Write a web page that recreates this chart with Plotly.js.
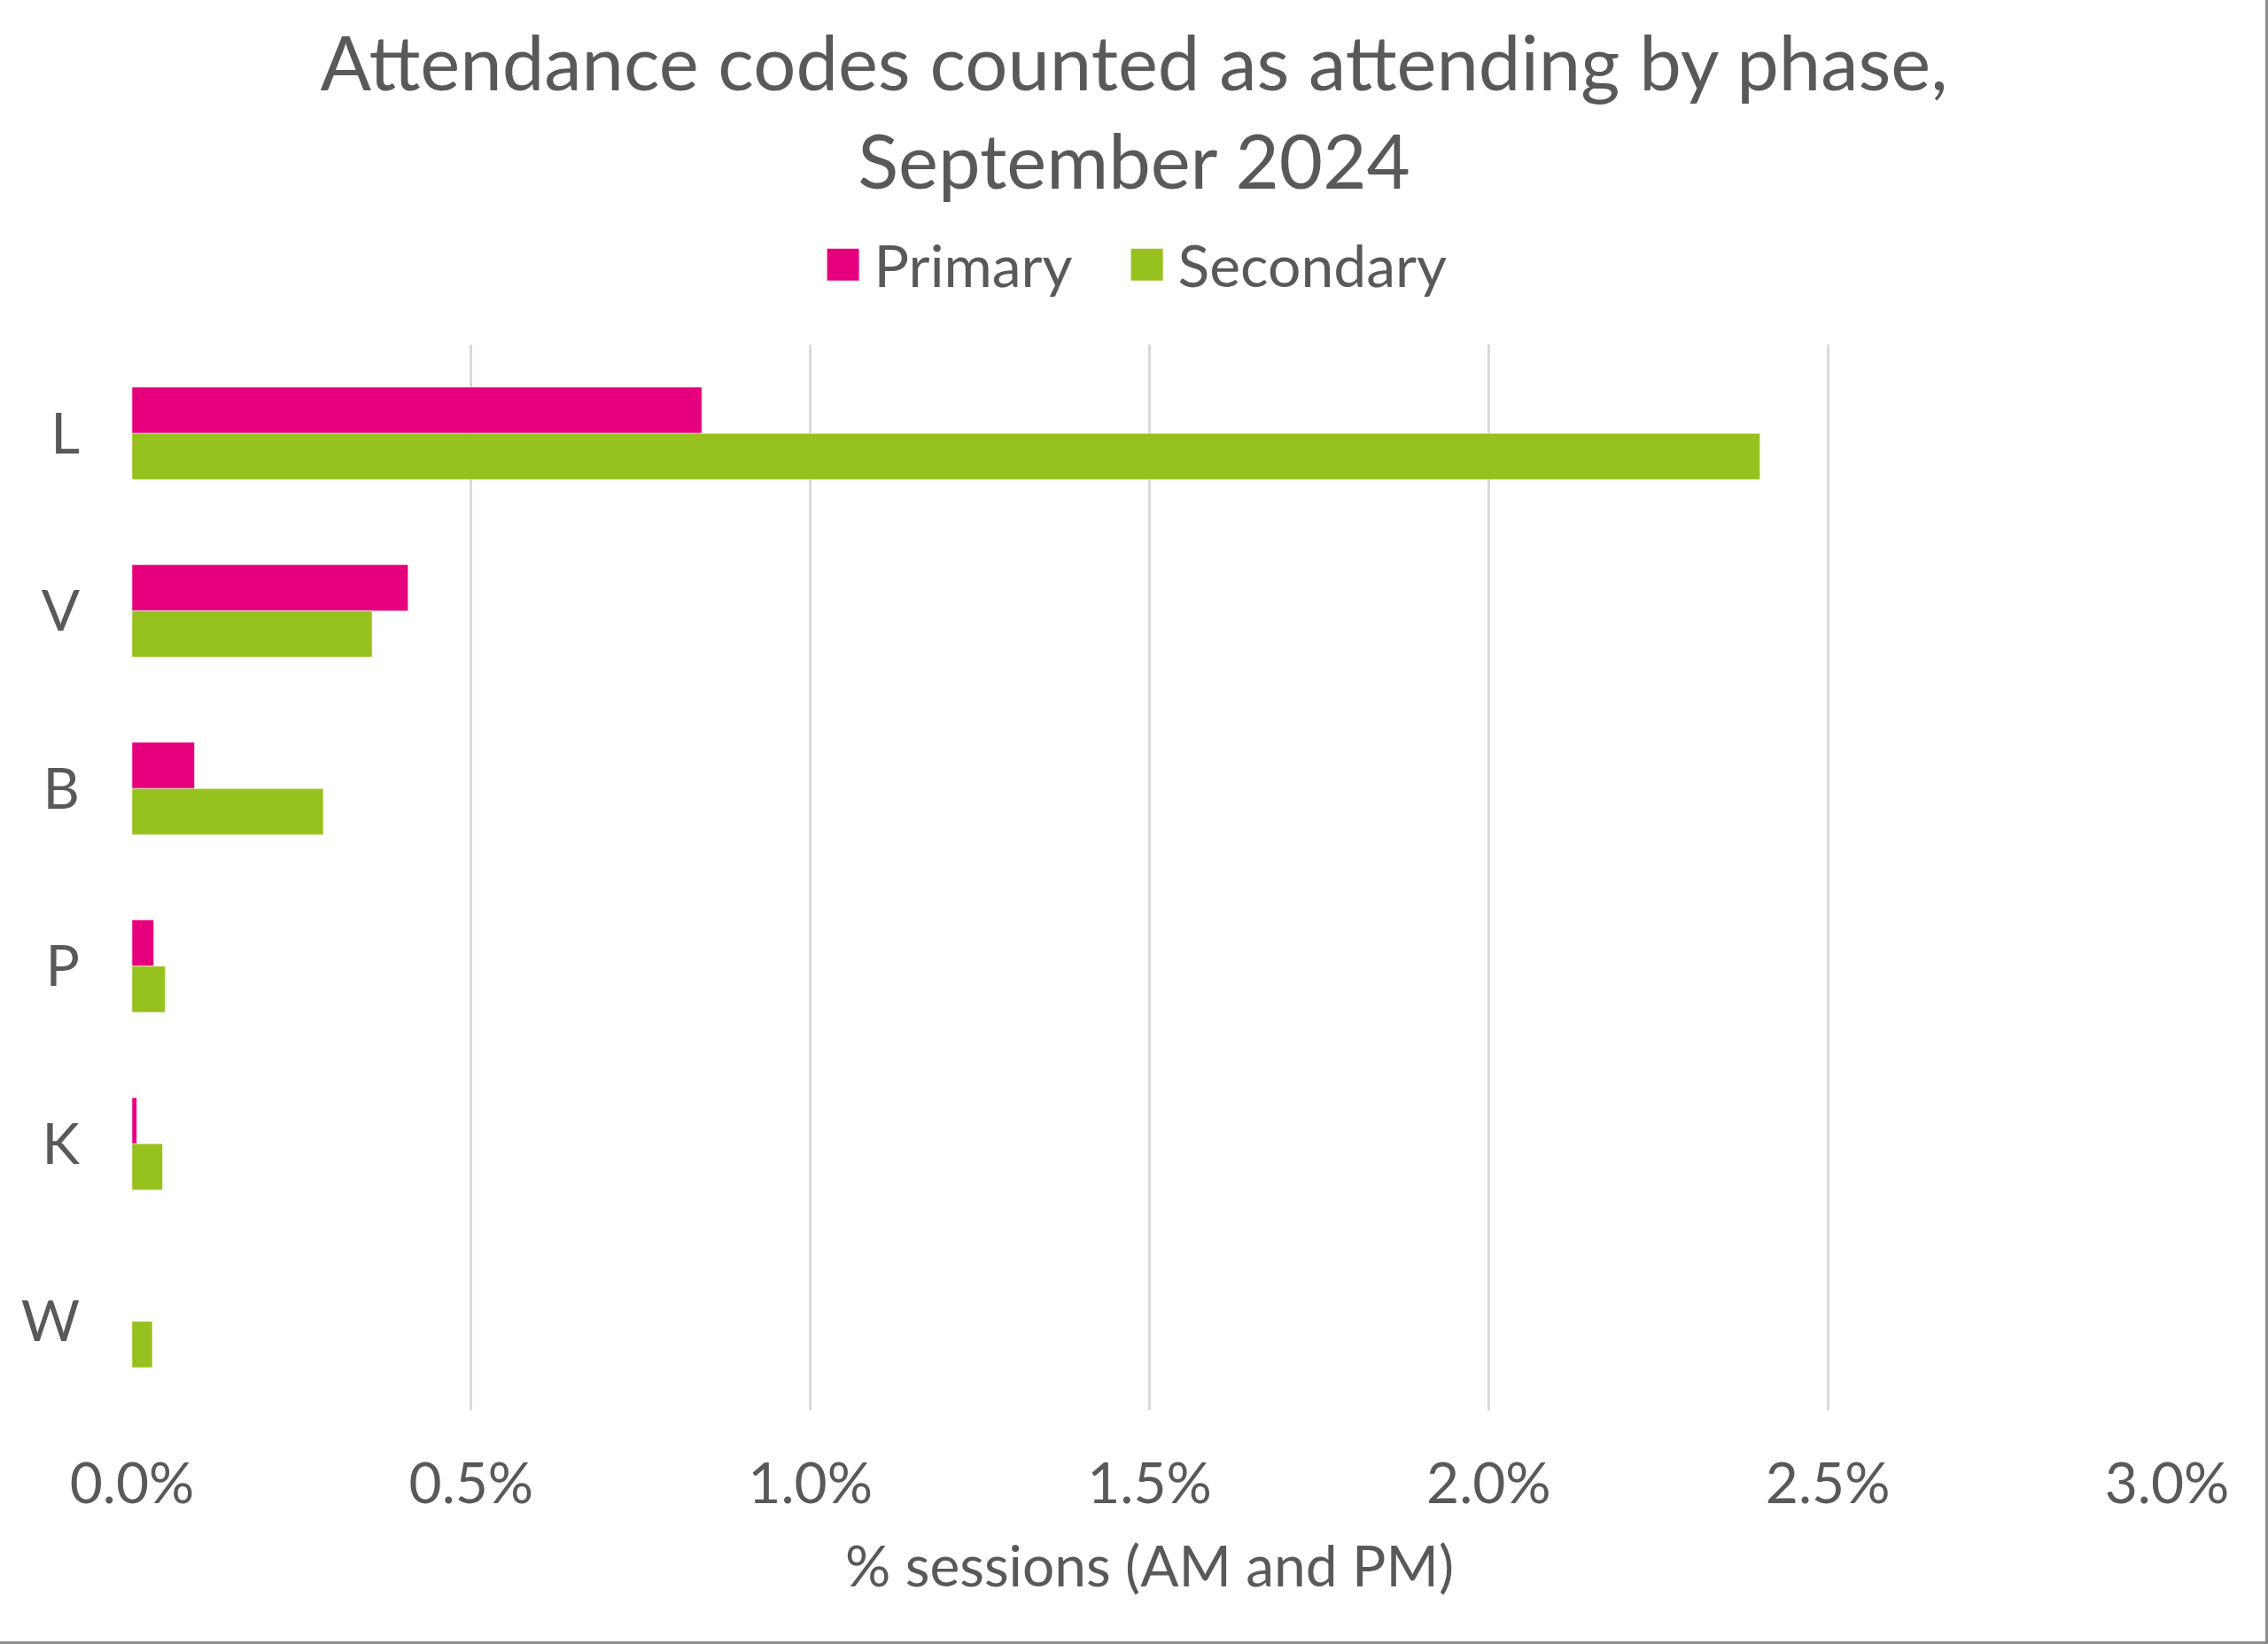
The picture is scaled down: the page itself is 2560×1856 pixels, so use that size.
<!DOCTYPE html>
<html>
<head>
<meta charset="utf-8">
<script src="https://cdn.plot.ly/plotly-3.0.1.min.js"></script>
<style>
  html, body { margin: 0; padding: 0; background: #ffffff; }
  #wrap { position: relative; width: 2560px; height: 1856px; }
  #chart { width: 2560px; height: 1856px; }
  #frame { position: absolute; left: 0; top: 0; width: 2560px; height: 1856px;
           box-sizing: border-box; border-right: 3px solid #8c8c8c; border-bottom: 3px solid #8c8c8c;
           pointer-events: none; }
</style>
</head>
<body>
<div id="wrap">
  <div id="chart"></div>
  <div id="frame"></div>
</div>
<script>
// Attendance codes counted as attending, share of sessions (fractions, shown as %)
const codes = ["L", "V", "B", "P", "K", "W"];
const primary = [0.0084, 0.00407, 0.00092, 0.00032, 0.00007, 0.0];
const secondary = [0.0240, 0.00354, 0.00282, 0.00049, 0.00045, 0.00030];
const xTicks = [0, 0.005, 0.01, 0.015, 0.02, 0.025, 0.03];

const FONT = "Lato, 'Open Sans', sans-serif";
const TEXT = "#595959";
const GRID = "#d9d9d9";

const traces = [
  {
    type: "bar", orientation: "h", name: "Primary",
    y: codes, x: primary,
    marker: { color: "#E6007E", line: { color: "rgba(255,255,255,0.5)", width: 1 } },
    hoverinfo: "skip"
  },
  {
    type: "bar", orientation: "h", name: "Secondary",
    y: codes, x: secondary,
    marker: { color: "#97C11F", line: { color: "rgba(255,255,255,0.5)", width: 1 } },
    hoverinfo: "skip"
  }
];

const layout = {
  width: 2560, height: 1856,
  paper_bgcolor: "#ffffff", plot_bgcolor: "#ffffff",
  font: { family: FONT, color: TEXT, size: 64 },
  margin: { l: 149, r: 114, t: 389, b: 264 },
  barmode: "group", bargap: 0.48, bargroupgap: 0,
  title: {
    text: "Attendance codes counted as attending by phase,<br>September 2024",
    font: { family: FONT, size: 85, color: TEXT },
    x: 0.5, xref: "container", xanchor: "center",
    y: 0.945, yref: "container", yanchor: "top"
  },
  showlegend: true,
  legend: {
    orientation: "h", x: 0.4835, xref: "paper", xanchor: "center",
    y: 0.839, yref: "container", yanchor: "middle",
    font: { family: FONT, size: 66, color: TEXT },
    itemwidth: 60, entrywidth: 268, entrywidthmode: "pixels",
    traceorder: "normal", itemclick: false, itemdoubleclick: false
  },
  xaxis: {
    range: [0, 0.03], tickvals: xTicks, tickformat: ".1%",
    showgrid: true, gridcolor: GRID, gridwidth: 3,
    zeroline: false, showline: false,
    ticks: "", ticklabelstandoff: 40,
    tickfont: { family: FONT, size: 64, color: TEXT },
    title: { text: "% sessions (AM and PM)", font: { family: FONT, size: 64, color: TEXT }, standoff: 36 },
    fixedrange: true
  },
  yaxis: {
    type: "category", autorange: "reversed",
    showgrid: false, zeroline: false, showline: false,
    ticks: "", ticklabelstandoff: 58,
    tickfont: { family: FONT, size: 64, color: TEXT },
    fixedrange: true
  }
};

Plotly.newPlot("chart", traces, layout, { staticPlot: true, displayModeBar: false }).then(function (gd) {
  // larger square legend swatches
  document.querySelectorAll("#chart .legendpoints path").forEach(function (p) {
    p.setAttribute("d", "M18,18H-18V-18H18Z");
    p.style.strokeWidth = "0";
  });
  // let the last legend label run past the fixed entry width
  document.querySelectorAll("#chart .legend [clip-path]").forEach(function (el) {
    el.removeAttribute("clip-path");
  });
});
</script>
</body>
</html>
